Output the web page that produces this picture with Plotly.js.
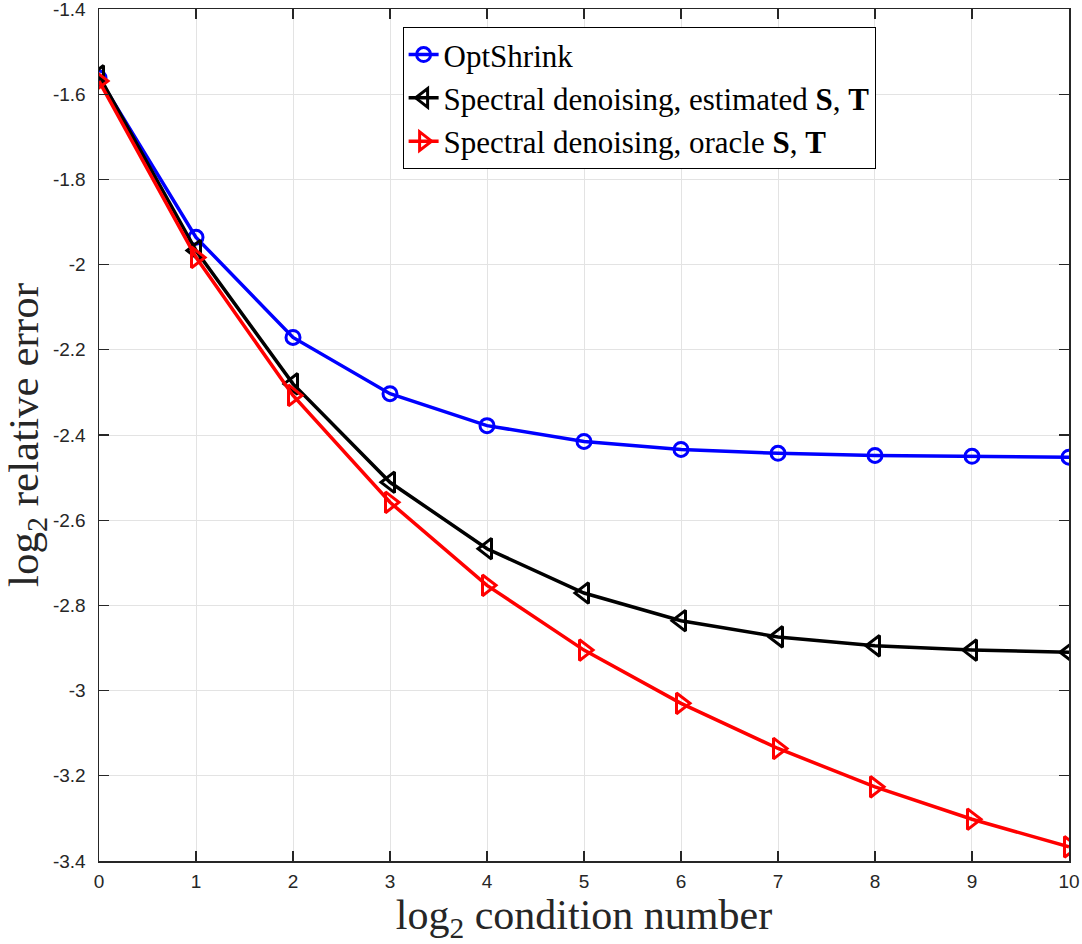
<!DOCTYPE html>
<html>
<head>
<meta charset="utf-8">
<script src="https://cdn.plot.ly/plotly-3.0.1.min.js"></script>
<style>
  html, body { margin: 0; padding: 0; background: #fff; }
  #chart { width: 1082px; height: 944px; }
</style>
</head>
<body>
<div id="chart"></div>
<script>
// log2 of the condition number
const conditionLog2 = [0, 1, 2, 3, 4, 5, 6, 7, 8, 9, 10];

// log2 relative error for each method
const optShrink = [-1.562, -1.936, -2.171, -2.303, -2.378, -2.415, -2.434, -2.443, -2.448, -2.450, -2.452];
const spectralEstimated = [-1.557, -1.967, -2.280, -2.511, -2.667, -2.771, -2.836, -2.874, -2.895, -2.905, -2.910];
const spectralOracle = [-1.569, -1.983, -2.307, -2.558, -2.753, -2.905, -3.030, -3.136, -3.226, -3.302, -3.367];

const seriesNames = [
  'OptShrink',
  'Spectral denoising, estimated <b>S</b>, <b>T</b>',
  'Spectral denoising, oracle <b>S</b>, <b>T</b>'
];

const xTicks = [0, 1, 2, 3, 4, 5, 6, 7, 8, 9, 10];
const yTicks = [-3.4, -3.2, -3, -2.8, -2.6, -2.4, -2.2, -2, -1.8, -1.6, -1.4];

const serif = 'Liberation Serif, Times New Roman, serif';
const sans = 'Liberation Sans, Arial, sans-serif';

const traces = [
  {
    x: conditionLog2, y: optShrink, name: seriesNames[0],
    mode: 'lines+markers', type: 'scatter',
    line: { color: '#0000ff', width: 3.5 },
    marker: { symbol: 'circle-open', size: 14, color: '#0000ff', line: { width: 3, color: '#0000ff' } }
  },
  {
    x: conditionLog2, y: spectralEstimated, name: seriesNames[1],
    mode: 'lines+markers', type: 'scatter',
    line: { color: '#000000', width: 3.5 },
    marker: { symbol: 'triangle-left-open', size: 18, color: '#000000', line: { width: 3, color: '#000000' } }
  },
  {
    x: conditionLog2, y: spectralOracle, name: seriesNames[2],
    mode: 'lines+markers', type: 'scatter',
    line: { color: '#ff0000', width: 3.5 },
    marker: { symbol: 'triangle-right-open', size: 18, color: '#ff0000', line: { width: 3, color: '#ff0000' } }
  }
];

const axisCommon = {
  showline: true, linecolor: '#262626', linewidth: 1.5,
  mirror: 'allticks', ticks: 'inside', ticklen: 10, tickwidth: 1.2, tickcolor: '#262626',
  showgrid: true, gridcolor: '#e3e3e3', gridwidth: 1,
  zeroline: false, ticklabeloverflow: 'allow',
  tickfont: { family: sans, size: 19, color: '#262626' }
};

const layout = {
  width: 1082, height: 944,
  margin: { l: 99, r: 13, t: 9, b: 83 },
  paper_bgcolor: '#ffffff', plot_bgcolor: '#ffffff',
  showlegend: true,
  xaxis: Object.assign({}, axisCommon, {
    range: [-0.0001, 10.0001], tickmode: 'array', tickvals: xTicks,
    ticktext: xTicks.map(String), ticklabelstandoff: 3,
    title: { text: 'log<sub>2</sub> condition number', font: { family: serif, size: 42, color: '#262626' }, standoff: 6 }
  }),
  yaxis: Object.assign({}, axisCommon, {
    range: [-3.4001, -1.3999], tickmode: 'array', tickvals: yTicks,
    ticktext: yTicks.map(String), ticklabelstandoff: 8,
    title: { text: 'log<sub>2</sub> relative error', font: { family: serif, size: 43, color: '#262626' }, standoff: 8 }
  }),
  legend: {
    x: 0.313, y: 0.979, xanchor: 'left', yanchor: 'top',
    bgcolor: '#ffffff', bordercolor: '#000000', borderwidth: 1,
    font: { family: serif, size: 31, color: '#000000' },
    itemwidth: 30, tracegroupgap: 0
  }
};

Plotly.newPlot('chart', traces, layout, { staticPlot: true, displayModeBar: false });
</script>
</body>
</html>
